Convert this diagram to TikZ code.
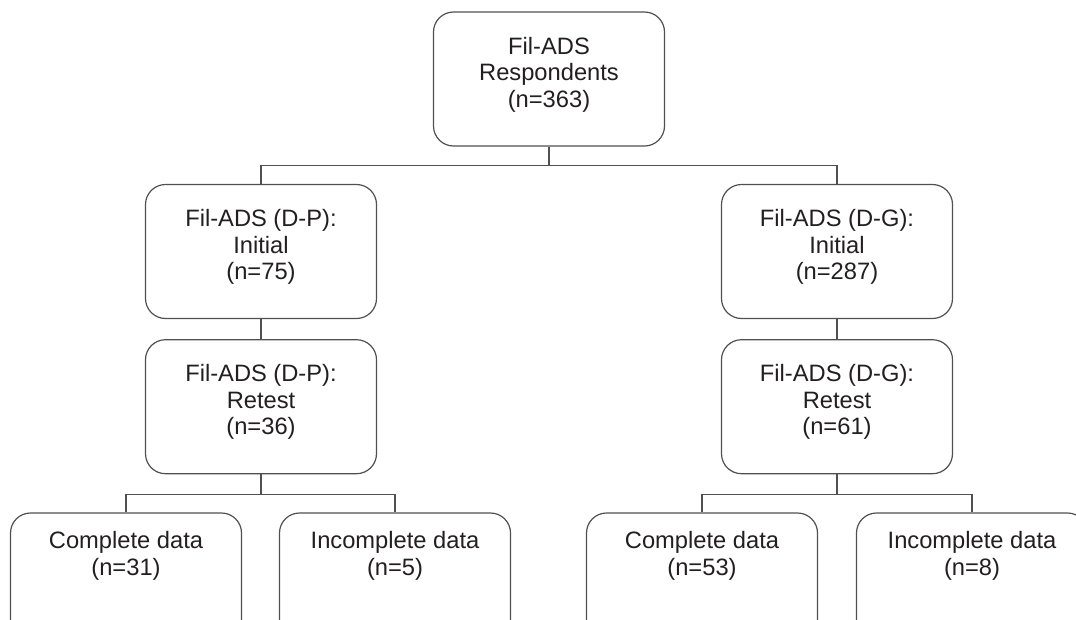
\documentclass[tikz,border=0pt]{standalone}
\usepackage{fontspec}
\setmainfont{Liberation Sans}
\usetikzlibrary{positioning}
\definecolor{linegray}{HTML}{505050}
\definecolor{textdark}{HTML}{231F20}
\tikzset{
  box/.style={draw=linegray, line width=1.2pt, rounded corners=20pt, fill=white,
    minimum width=231pt, minimum height=134pt, inner sep=0pt, align=center,
    font=\fontsize{23.7}{26.5}\selectfont, text=textdark, text depth=14pt},
  leaf/.style={box, text depth=53pt},
  link/.style={draw=linegray, line width=1.2pt}
}

\begin{document}
\begin{tikzpicture}[x=1pt, y=-1pt]
  \useasboundingbox (0,0) rectangle (1076,619);
  % all respondents
  \node[box] (resp) at (549,79) {Fil-ADS\\Respondents\\(n=363)};
  % D-P branch
  \node[box] (initP) at (261,251.5) {Fil-ADS (D-P):\\Initial\\(n=75)};
  \node[box, below=20pt of initP] (retestP) {Fil-ADS (D-P):\\Retest\\(n=36)};
  \node[leaf] (compP) at (126,580) {Complete data\\(n=31)};
  \node[leaf] (incompP) at (395,580) {Incomplete data\\(n=5)};
  % D-G branch
  \node[box] (initG) at (837,251.5) {Fil-ADS (D-G):\\Initial\\(n=287)};
  \node[box, below=20pt of initG] (retestG) {Fil-ADS (D-G):\\Retest\\(n=61)};
  \node[leaf] (compG) at (702,580) {Complete data\\(n=53)};
  \node[leaf] (incompG) at (972,580) {Incomplete data\\(n=8)};
  % connectors
  \draw[link] (resp.south) -- ++(0,19) -| (initP.north);
  \draw[link] (resp.south) -- ++(0,19) -| (initG.north);
  \draw[link] (initP) -- (retestP);
  \draw[link] (initG) -- (retestG);
  \draw[link] (retestP.south) -- ++(0,20) -| (compP.north);
  \draw[link] (retestP.south) -- ++(0,20) -| (incompP.north);
  \draw[link] (retestG.south) -- ++(0,20) -| (compG.north);
  \draw[link] (retestG.south) -- ++(0,20) -| (incompG.north);
\end{tikzpicture}
\end{document}
